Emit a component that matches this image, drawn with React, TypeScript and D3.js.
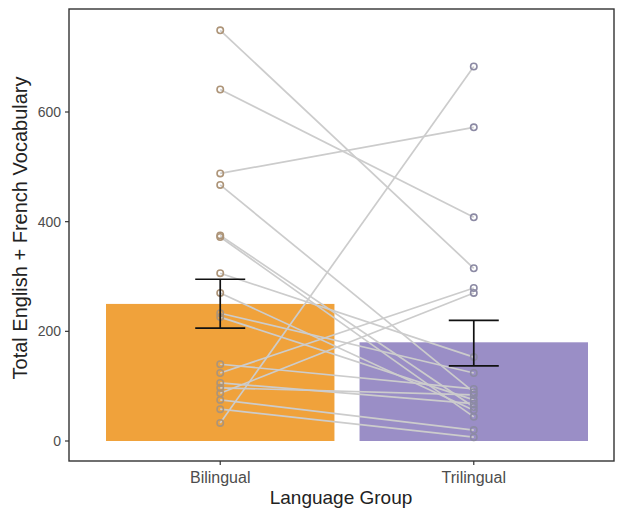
import React from "react";
import * as d3 from "d3";

const groups = ["Bilingual", "Trilingual"];
const groupMeans = [250, 180];
const errLow = [206, 137];
const errHigh = [295, 220];
const bilingualScores = [749, 641, 488, 467, 375, 372, 306, 270, 233, 226, 140, 124, 106, 97, 87, 75, 58, 33];
const trilingualScores = [315, 408, 572, 89, 62, 44, 153, 56, 124, 75, 95, 279, 68, 84, 270, 20, 7, 683];
const yTicks = [0, 200, 400, 600];
const barColors = ["#F0A23B", "#9A8EC6"];
const pointColors = ["#ad9478", "#8c8aa4"];

const W = 618;
const H = 510;
const panel = { left: 69, right: 614, top: 9, bottom: 461 };

export default function App() {
  const x = d3.scaleBand<string>().domain(groups).range([106, 588]).paddingInner(0.099).paddingOuter(0);
  const y = d3.scaleLinear().domain([0, 600]).range([441, 112]);
  const bw = x.bandwidth();
  const cx = (g: string) => (x(g) as number) + bw / 2;
  const capHalf = 25;

  return (
    <svg width={W} height={H} style={{ position: "absolute", left: 0, top: 0, fontFamily: "Liberation Sans, Arial, sans-serif" }}>
      <rect x={0} y={0} width={W} height={H} fill="#fff" />
      {groups.map((g, i) => (
        <rect key={g} x={x(g)} y={y(groupMeans[i])} width={bw} height={y(0) - y(groupMeans[i])} fill={barColors[i]} />
      ))}
      {bilingualScores.map((b, i) => (
        <line key={"l" + i} x1={cx(groups[0])} y1={y(b)} x2={cx(groups[1])} y2={y(trilingualScores[i])} stroke="#cccccc" strokeWidth={1.7} />
      ))}
      {bilingualScores.map((b, i) => (
        <circle key={"b" + i} cx={cx(groups[0])} cy={y(b)} r={3.2} fill="none" stroke={pointColors[0]} strokeWidth={1.6} />
      ))}
      {trilingualScores.map((t, i) => (
        <circle key={"t" + i} cx={cx(groups[1])} cy={y(t)} r={3.2} fill="none" stroke={pointColors[1]} strokeWidth={1.6} />
      ))}
      {groups.map((g, i) => (
        <g key={"e" + g} stroke="#111" strokeWidth={1.7}>
          <line x1={cx(g)} x2={cx(g)} y1={y(errHigh[i])} y2={y(errLow[i])} />
          <line x1={cx(g) - capHalf} x2={cx(g) + capHalf} y1={y(errHigh[i])} y2={y(errHigh[i])} />
          <line x1={cx(g) - capHalf} x2={cx(g) + capHalf} y1={y(errLow[i])} y2={y(errLow[i])} />
        </g>
      ))}
      <rect x={panel.left} y={panel.top} width={panel.right - panel.left} height={panel.bottom - panel.top} fill="none" stroke="#333" strokeWidth={1.4} />
      {yTicks.map((t) => (
        <g key={"yt" + t}>
          <line x1={panel.left - 4} x2={panel.left} y1={y(t)} y2={y(t)} stroke="#333" strokeWidth={1.2} />
          <text x={panel.left - 8} y={y(t)} dy="0.35em" textAnchor="end" fontSize={14} fill="#4d4d4d">{t}</text>
        </g>
      ))}
      {groups.map((g) => (
        <g key={"xt" + g}>
          <line x1={cx(g)} x2={cx(g)} y1={panel.bottom} y2={panel.bottom + 4} stroke="#333" strokeWidth={1.2} />
          <text x={cx(g)} y={panel.bottom + 22} textAnchor="middle" fontSize={16} fill="#4d4d4d">{g}</text>
        </g>
      ))}
      <text x={341} y={504} textAnchor="middle" fontSize={19} fill="#222">Language Group</text>
      <text transform={`translate(27,228) rotate(-90)`} textAnchor="middle" fontSize={20} fill="#222">Total English + French Vocabulary</text>
    </svg>
  );
}
